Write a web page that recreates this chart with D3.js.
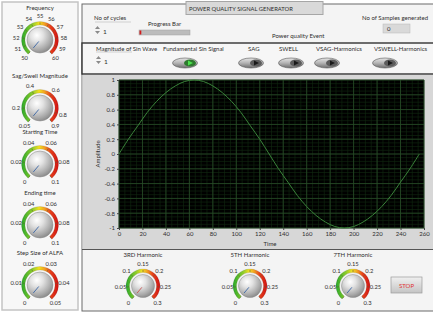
<!DOCTYPE html>
<html>
<head>
<meta charset="utf-8">
<script src="https://cdn.jsdelivr.net/npm/d3@7"></script>
<style>
  body { margin: 0; background: #fff; }
  svg { display: block; font-family: Lato, "Open Sans", sans-serif; }
  text { fill: #2e2e2e; }
</style>
</head>
<body>
<div id="chart"></div>
<script>
// signal (one point every 8 samples)
const sinTime = [0, 8, 16, 24, 32, 40, 48, 56, 64, 72, 80, 88, 96, 104, 112, 120, 128,
  136, 144, 152, 160, 168, 176, 184, 192, 200, 208, 216, 224, 232, 240, 248, 256]
const sinValues = [0, 0.2, 0.38, 0.56, 0.71, 0.83, 0.92, 0.98, 1, 0.98, 0.92, 0.83, 0.71, 0.56, 0.38, 0.2, 0,
  -0.2, -0.38, -0.56, -0.71, -0.83, -0.92, -0.98, -1, -0.98, -0.92, -0.83, -0.71, -0.56, -0.38, -0.2, 0]

const xTickLabels = [0, 20, 40, 60, 80, 100, 120, 140, 160, 180, 200, 220, 240, 260]
const yTickLabels = [1, 0.8, 0.6, 0.4, 0.2, 0, -0.2, -0.4, -0.6, -0.8, -1]

// knob scales
const frequencyTicks = [50, 51, 52, 53, 54, 55, 56, 57, 58, 59, 60]
const sagSwellTicks = [0.05, 0.2, 0.4, 0.6, 0.8, 0.9]
const startTimeTicks = [0, 0.02, 0.04, 0.06, 0.08, 0.1]
const endTimeTicks = [0, 0.02, 0.04, 0.06, 0.08, 0.1]
const alfaTicks = [0, 0.01, 0.02, 0.03, 0.04, 0.05]
const harmonicTicks = [0, 0.05, 0.1, 0.15, 0.2, 0.25, 0.3]

const switchNames = ['Fundamental Sin Signal', 'SAG', 'SWELL', 'VSAG-Harmonics', 'VSWELL-Harmonics']
const switchStates = [true, false, false, false, false]

const width = 433
const height = 313

const svg = d3.select('#chart').append('svg')
  .attr('width', width)
  .attr('height', height)

const defs = svg.append('defs')

const arcGrad = defs.append('linearGradient').attr('id', 'arc-grad')
  .attr('x1', '0%').attr('y1', '0%').attr('x2', '100%').attr('y2', '0%')
arcGrad.selectAll('stop')
  .data([
    { o: 0, c: '#2aa82a' }, { o: 0.3, c: '#8fcc2c' }, { o: 0.47, c: '#f0e020' },
    { o: 0.62, c: '#f2a222' }, { o: 0.78, c: '#e5421c' }, { o: 1, c: '#d01212' }
  ])
  .enter().append('stop')
  .attr('offset', (d) => d.o)
  .attr('stop-color', (d) => d.c)

const knobGrad = defs.append('radialGradient').attr('id', 'knob-grad')
  .attr('cx', '38%').attr('cy', '32%').attr('r', '70%')
knobGrad.selectAll('stop')
  .data([
    { o: 0, c: '#ffffff' }, { o: 0.35, c: '#e2e2e2' }, { o: 0.8, c: '#a9a9a9' }, { o: 1, c: '#8c8c8c' }
  ])
  .enter().append('stop')
  .attr('offset', (d) => d.o)
  .attr('stop-color', (d) => d.c)

const pillGrad = defs.append('linearGradient').attr('id', 'pill-grad')
  .attr('x1', '0%').attr('y1', '0%').attr('x2', '0%').attr('y2', '100%')
pillGrad.selectAll('stop')
  .data([{ o: 0, c: '#e6e6e6' }, { o: 0.5, c: '#b4b4b4' }, { o: 1, c: '#6e6e6e' }])
  .enter().append('stop')
  .attr('offset', (d) => d.o)
  .attr('stop-color', (d) => d.c)

const btnGrad = defs.append('linearGradient').attr('id', 'btn-grad')
  .attr('x1', '0%').attr('y1', '0%').attr('x2', '0%').attr('y2', '100%')
btnGrad.selectAll('stop')
  .data([{ o: 0, c: '#f0f0f0' }, { o: 1, c: '#c4c4c4' }])
  .enter().append('stop')
  .attr('offset', (d) => d.o)
  .attr('stop-color', (d) => d.c)

// ---- panels
svg.append('rect')
  .attr('x', 2).attr('y', 2).attr('width', 76).attr('height', 308)
  .attr('fill', '#f7f7f7').attr('stroke', '#c4c4c4').attr('stroke-width', 1.5)

svg.append('rect')
  .attr('x', 82).attr('y', 4).attr('width', 352).attr('height', 307)
  .attr('fill', '#f4f4f4').attr('stroke', '#6a6a6a').attr('stroke-width', 1)

svg.append('rect')
  .attr('x', 82).attr('y', 43).attr('width', 352).attr('height', 31)
  .attr('fill', '#f6f6f6').attr('stroke', '#333').attr('stroke-width', 1.4)

svg.append('rect')
  .attr('x', 82.5).attr('y', 75).attr('width', 351).attr('height', 174)
  .attr('fill', '#d7d7d7')

svg.append('line')
  .attr('x1', 82).attr('x2', 433).attr('y1', 249.5).attr('y2', 249.5)
  .attr('stroke', '#555')

// title box
svg.append('rect')
  .attr('x', 186).attr('y', 1.5).attr('width', 137).attr('height', 13)
  .attr('fill', '#d9d9d9').attr('stroke', '#a6a6a6')
svg.append('text')
  .attr('x', 189).attr('y', 10.5)
  .attr('font-size', 5.8)
  .text('POWER QUALITY SIGNAL GENERATOR')

function label (x, y, txt, anchor) {
  return svg.append('text')
    .attr('x', x).attr('y', y)
    .attr('font-size', 6)
    .attr('text-anchor', anchor || 'start')
    .text(txt)
}

function numeric (x, y, val) {
  const g = svg.append('g').attr('transform', `translate(${x},${y})`)
  g.append('line').attr('x1', 0).attr('x2', 36).attr('y1', -4).attr('y2', -4)
    .attr('stroke', '#c8c8c8').attr('stroke-width', 0.8)
  g.append('path').attr('d', 'M0,3L2.5,0L5,3Z').attr('fill', '#8a8a8a')
  g.append('path').attr('d', 'M0,5L2.5,8L5,5Z').attr('fill', '#8a8a8a')
  g.append('text').attr('x', 8).attr('y', 7.5).attr('font-size', 6.5).text(val)
}

label(94, 19.5, 'No of cycles')
numeric(95, 26, '1')
label(148, 25.5, 'Progress Bar')
svg.append('rect')
  .attr('x', 139).attr('y', 30).attr('width', 51).attr('height', 5)
  .attr('fill', '#bcbcbc').attr('stroke', '#a0a0a0').attr('stroke-width', 0.5)
svg.append('rect')
  .attr('x', 139.5).attr('y', 30.5).attr('width', 1.8).attr('height', 4)
  .attr('fill', '#d21c1c')
label(272, 38, 'Power quality Event')
label(362, 20, 'No of Samples generated')
svg.append('rect')
  .attr('x', 383).attr('y', 24).attr('width', 27).attr('height', 9)
  .attr('fill', '#d9d9d9').attr('stroke', '#b8b8b8').attr('stroke-width', 0.5)
label(387, 31, '0')

label(96, 50.5, 'Magnitude of Sin Wave')
numeric(96, 56, '1')

// ---- switches
const switchLabelX = [163, 248, 279, 316, 374]
const switchCenterX = [185, 251, 291, 327, 385]

switchNames.forEach((name, i) => {
  label(switchLabelX[i], 50.5, name)
  const g = svg.append('g').attr('transform', `translate(${switchCenterX[i]},63)`)
  g.append('ellipse').attr('rx', 12.5).attr('ry', 5)
    .attr('fill', 'url(#pill-grad)').attr('stroke', '#555').attr('stroke-width', 0.6)
  g.append('ellipse').attr('cx', 5).attr('rx', 6).attr('ry', 3.6)
    .attr('fill', switchStates[i] ? '#2d7a2d' : '#5c5c5c')
  g.append('path').attr('d', 'M3,-2.6L8,0L3,2.6Z')
    .attr('fill', switchStates[i] ? '#4de24d' : '#1a1a1a')
})

// ---- graph
const plot = { left: 119, right: 424, top: 80, bottom: 228 }

const xScale = d3.scaleLinear().domain([0, 260]).range([plot.left, plot.right])
const yScale = d3.scaleLinear().domain([-1, 1]).range([plot.bottom, plot.top])

svg.append('rect')
  .attr('x', plot.left).attr('y', plot.top)
  .attr('width', plot.right - plot.left).attr('height', plot.bottom - plot.top)
  .attr('fill', '#000')

const grid = svg.append('g')
grid.selectAll('.vminor').data(xScale.ticks(52)).enter().append('line')
  .attr('x1', (d) => xScale(d)).attr('x2', (d) => xScale(d))
  .attr('y1', plot.top).attr('y2', plot.bottom)
  .attr('stroke', '#102a10').attr('stroke-width', 0.6)
grid.selectAll('.hminor').data(yScale.ticks(40)).enter().append('line')
  .attr('y1', (d) => yScale(d)).attr('y2', (d) => yScale(d))
  .attr('x1', plot.left).attr('x2', plot.right)
  .attr('stroke', '#102a10').attr('stroke-width', 0.6)
grid.selectAll('.vmajor').data(xTickLabels).enter().append('line')
  .attr('x1', (d) => xScale(d)).attr('x2', (d) => xScale(d))
  .attr('y1', plot.top).attr('y2', plot.bottom)
  .attr('stroke', '#284c28').attr('stroke-width', 0.8)
grid.selectAll('.hmajor').data(yTickLabels).enter().append('line')
  .attr('y1', (d) => yScale(d)).attr('y2', (d) => yScale(d))
  .attr('x1', plot.left).attr('x2', plot.right)
  .attr('stroke', '#284c28').attr('stroke-width', 0.8)

const line = d3.line()
  .x((d, i) => xScale(sinTime[i]))
  .y((d) => yScale(d))
  .curve(d3.curveCatmullRom)

svg.append('path')
  .datum(sinValues)
  .attr('d', line)
  .attr('fill', 'none')
  .attr('stroke', '#3a833a')
  .attr('stroke-width', 1)

const xAxis = d3.axisBottom(xScale).tickValues(xTickLabels).tickSize(2).tickPadding(2)
const yAxis = d3.axisLeft(yScale).tickValues(yTickLabels).tickSize(2).tickPadding(2)
  .tickFormat((d) => d)

svg.append('g').attr('transform', `translate(0,${plot.bottom})`).call(xAxis)
  .call((g) => g.select('.domain').remove())
svg.append('g').attr('transform', `translate(${plot.left},0)`).call(yAxis)
  .call((g) => g.select('.domain').remove())
svg.selectAll('.tick text').attr('font-size', 6).attr('fill', '#2e2e2e')
  .attr('font-family', 'Lato, sans-serif')
svg.selectAll('.tick line').attr('stroke', '#444')

svg.append('text')
  .attr('x', 270).attr('y', 246)
  .attr('font-size', 6)
  .attr('text-anchor', 'middle')
  .text('Time')
svg.append('text')
  .attr('transform', 'translate(100,154) rotate(-90)')
  .attr('font-size', 6)
  .attr('text-anchor', 'middle')
  .text('Amplitude')

// ---- knobs
function drawKnob (cx, cy, title, ticks, opts) {
  const r = opts.r
  const angle = d3.scaleLinear()
    .domain(d3.extent(ticks))
    .range([-140, 140].map((a) => a * Math.PI / 180))
  const g = svg.append('g').attr('transform', `translate(${cx},${cy})`)

  svg.append('text')
    .attr('x', cx).attr('y', cy + opts.titleDy)
    .attr('font-size', 6)
    .attr('text-anchor', 'middle')
    .text(title)

  g.append('path')
    .attr('d', d3.arc()({
      innerRadius: r + 2,
      outerRadius: r + 5.5,
      startAngle: angle.range()[0],
      endAngle: angle.range()[1]
    }))
    .attr('fill', 'url(#arc-grad)')
    .attr('stroke', 'rgba(0,0,0,0.25)')
    .attr('stroke-width', 0.4)

  g.selectAll('.tk').data(ticks).enter().append('line')
    .attr('x1', (d) => Math.sin(angle(d)) * (r + 2.5))
    .attr('y1', (d) => -Math.cos(angle(d)) * (r + 2.5))
    .attr('x2', (d) => Math.sin(angle(d)) * (r + 4.5))
    .attr('y2', (d) => -Math.cos(angle(d)) * (r + 4.5))
    .attr('stroke', '#5a5a3a').attr('stroke-width', 0.6)

  g.selectAll('.lbl').data(ticks).enter().append('text')
    .attr('x', (d) => Math.sin(angle(d)) * (r + opts.labelGap))
    .attr('y', (d) => -Math.cos(angle(d)) * (r + opts.labelGap) + 2)
    .attr('font-size', 5.8)
    .attr('text-anchor', 'middle')
    .text((d) => d)

  g.append('circle').attr('r', r)
    .attr('fill', 'url(#knob-grad)')
    .attr('stroke', '#8a8a8a').attr('stroke-width', 0.5)

  const a = angle(ticks[0])
  g.append('line')
    .attr('x1', Math.sin(a) * r * 0.15).attr('y1', -Math.cos(a) * r * 0.15)
    .attr('x2', Math.sin(a) * r * 0.8).attr('y2', -Math.cos(a) * r * 0.8)
    .attr('stroke', opts.pointer).attr('stroke-width', 1)
}

const leftOpts = { r: 13, labelGap: 11, titleDy: -30, pointer: '#4a70a8' }
drawKnob(40, 40, 'Frequency', frequencyTicks, leftOpts)
drawKnob(40, 108, 'Sag/Swell Magnitude', sagSwellTicks, leftOpts)
drawKnob(40, 164, 'Starting Time', startTimeTicks, leftOpts)
drawKnob(40, 225, 'Ending time', endTimeTicks, leftOpts)
drawKnob(40, 285, 'Step Size of ALFA', alfaTicks, leftOpts)

const harmOpts = { r: 11.5, labelGap: 11, titleDy: -29, pointer: '#c86060' }
drawKnob(143, 286, '3RD Harmonic', harmonicTicks, harmOpts)
drawKnob(250, 286, '5TH Harmonic', harmonicTicks, { ...harmOpts, pointer: '#4a70a8' })
drawKnob(353, 286, '7TH Harmonic', harmonicTicks, { ...harmOpts, pointer: '#4a70a8' })

// ---- stop button
svg.append('rect')
  .attr('x', 391).attr('y', 277).attr('width', 31).attr('height', 16)
  .attr('fill', 'url(#btn-grad)').attr('stroke', '#9a9a9a').attr('stroke-width', 0.7)
svg.append('text')
  .attr('x', 406.5).attr('y', 287.5)
  .attr('font-size', 6)
  .attr('text-anchor', 'middle')
  .style('fill', '#e03232')
  .text('STOP')
</script>
</body>
</html>
